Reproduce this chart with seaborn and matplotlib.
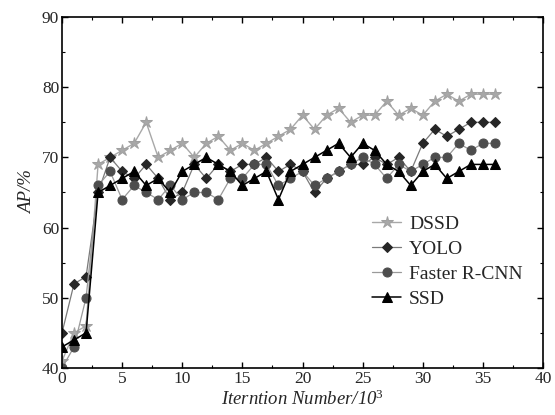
import matplotlib
matplotlib.use("Agg")
import matplotlib.pyplot as plt
import seaborn as sns
import pandas as pd
import numpy as np
from matplotlib.ticker import MultipleLocator

iterations = list(range(0, 37))
dssd = [41, 45, 46, 69, 70, 71, 72, 75, 70, 71, 72, 70, 72, 73, 71, 72, 71, 72, 73, 74,
        76, 74, 76, 77, 75, 76, 76, 78, 76, 77, 76, 78, 79, 78, 79, 79, 79]
yolo = [45, 52, 53, 65, 70, 68, 67, 69, 67, 64, 65, 69, 67, 69, 68, 69, 69, 70, 68, 69,
        68, 65, 67, 68, 69, 69, 70, 69, 70, 68, 72, 74, 73, 74, 75, 75, 75]
faster = [40, 43, 50, 66, 68, 64, 66, 65, 64, 66, 64, 65, 65, 64, 67, 67, 69, 69, 66, 67,
          68, 66, 67, 68, 69, 70, 69, 67, 69, 68, 69, 70, 70, 72, 71, 72, 72]
ssd = [43, 44, 45, 65, 66, 67, 68, 66, 67, 65, 68, 69, 70, 69, 68, 66, 67, 68, 64, 68,
       69, 70, 71, 72, 70, 72, 71, 69, 68, 66, 68, 69, 67, 68, 69, 69, 69]

series_names = ["DSSD", "YOLO", "Faster R-CNN", "SSD"]
series_values = [dssd, yolo, faster, ssd]

x_ticks = [0, 5, 10, 15, 20, 25, 30, 35, 40]
y_ticks = [40, 50, 60, 70, 80, 90]

sns.set_style("ticks")
plt.rcParams['font.family'] = ['Liberation Serif', 'DejaVu Serif']
plt.rcParams['mathtext.fontset'] = 'custom'
plt.rcParams['mathtext.rm'] = 'Liberation Serif'
plt.rcParams['mathtext.it'] = 'Liberation Serif:italic'

df = pd.DataFrame({
    "x": np.tile(iterations, len(series_names)),
    "y": np.concatenate(series_values),
    "model": np.repeat(series_names, len(iterations)),
})

styles = {
    "DSSD": dict(color="#a8a8a8", marker="*", markersize=9, mec="#a0a0a0", mfc="#a8a8a8", lw=1.0),
    "YOLO": dict(color="#7a7a7a", marker="D", markersize=5, mec="#262626", mfc="#262626", lw=0.9),
    "Faster R-CNN": dict(color="#9a9a9a", marker="o", markersize=6.5, mec="#4d4d4d", mfc="#4d4d4d", lw=0.9),
    "SSD": dict(color="#000000", marker="^", markersize=6.5, mec="#000000", mfc="#000000", lw=1.1),
}

fig = plt.figure(figsize=(5.55, 4.15), dpi=100)
ax = fig.add_axes([62/555, 1-368/415, (543-62)/555, (368-17)/415])

for name in series_names:
    st = styles[name]
    sub = df[df["model"] == name]
    sns.lineplot(data=sub, x="x", y="y", ax=ax, label=name, color=st["color"],
                 marker=st["marker"], markersize=st["markersize"],
                 markeredgecolor=st["mec"], markerfacecolor=st["mfc"],
                 linewidth=st["lw"], estimator=None, errorbar=None)

ax.set_xlim(0, 40)
ax.set_ylim(40, 90)
ax.set_xticks(x_ticks)
ax.set_yticks(y_ticks)
ax.xaxis.set_minor_locator(MultipleLocator(2.5))
ax.yaxis.set_minor_locator(MultipleLocator(5))
ax.tick_params(which="both", direction="in", top=True, right=True, labelsize=12.5,
               color="black", pad=2)
ax.tick_params(which="major", length=4, width=1)
ax.tick_params(which="minor", length=2.5, width=0.8)
for sp in ax.spines.values():
    sp.set_visible(True)
    sp.set_linewidth(1.2)
    sp.set_color("black")

ax.set_xlabel("Iterntion Number/10$^{3}$", fontsize=13.5, fontstyle="italic", labelpad=2)
ax.set_ylabel("AP/%", fontsize=13.5, fontstyle="italic", labelpad=4)

leg = ax.legend(loc="upper left", bbox_to_anchor=(0.645, 0.435), frameon=False,
                fontsize=14, handlelength=1.5, handletextpad=0.4, labelspacing=0.38,
                borderpad=0, borderaxespad=0)

fig.savefig("out.png", dpi=100)
